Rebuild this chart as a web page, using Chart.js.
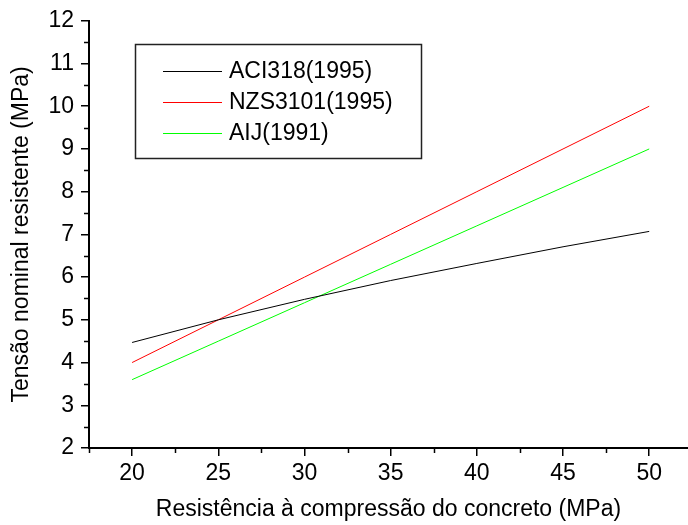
<!DOCTYPE html>
<html>
<head>
<meta charset="utf-8">
<script src="https://cdn.jsdelivr.net/npm/chart.js@4/dist/chart.umd.min.js"></script>
<style>
html,body{margin:0;padding:0;background:#fff;}
#wrap{width:688px;height:525px;position:relative;}
</style>
</head>
<body>
<div id="wrap"><canvas id="c" width="688" height="525"></canvas></div>
<script>
const fcValues = [20, 25, 30, 35, 40, 45, 50];
const aci318 = [4.47, 5.00, 5.48, 5.92, 6.32, 6.71, 7.07];
const nzs3101 = [4.0, 5.0, 6.0, 7.0, 8.0, 9.0, 10.0];
const aij = [3.6, 4.5, 5.4, 6.3, 7.2, 8.1, 9.0];
const seriesNames = ['ACI318(1995)', 'NZS3101(1995)', 'AIJ(1991)'];
const seriesColors = ['#000000', '#ff0000', '#00ff00'];
const xTicks = [20, 25, 30, 35, 40, 45, 50];
const xMinorTicks = [17.5, 22.5, 27.5, 32.5, 37.5, 42.5, 47.5, 52.5];
const yTicks = [2, 3, 4, 5, 6, 7, 8, 9, 10, 11, 12];
const yMinorTicks = [2.5, 3.5, 4.5, 5.5, 6.5, 7.5, 8.5, 9.5, 10.5, 11.5];
const xTitle = 'Resistência à compressão do concreto (MPa)';
const yTitle = 'Tensão nominal resistente (MPa)';

const FONT = "'Liberation Sans', Arial, sans-serif";
const FS = 23;

function pts(arr){ return fcValues.map((x,i)=>({x:x, y:arr[i]})); }
const allSeries = [aci318, nzs3101, aij];

const minorTickPlugin = {
  id: 'minorTicks',
  afterDraw(chart){
    const ctx = chart.ctx;
    const xs = chart.scales.x, ys = chart.scales.y;
    const ca = chart.chartArea;
    ctx.save();
    ctx.strokeStyle = '#000';
    ctx.lineWidth = 1.5;
    xMinorTicks.forEach(v=>{
      const px = xs.getPixelForValue(v);
      if (px < ca.left - 0.5 || px > ca.right + 0.5) return;
      ctx.beginPath();
      ctx.moveTo(Math.round(px)+0.5, ca.bottom);
      ctx.lineTo(Math.round(px)+0.5, ca.bottom + 5);
      ctx.stroke();
    });
    yMinorTicks.forEach(v=>{
      const py = ys.getPixelForValue(v);
      ctx.beginPath();
      ctx.moveTo(ca.left, Math.round(py)+0.5);
      ctx.lineTo(ca.left - 5, Math.round(py)+0.5);
      ctx.stroke();
    });
    ctx.restore();
  }
};

const legendPlugin = {
  id: 'boxLegend',
  afterDraw(chart){
    const ctx = chart.ctx;
    ctx.save();
    ctx.strokeStyle = '#222';
    ctx.lineWidth = 1.5;
    ctx.strokeRect(135.5, 44.5, 286, 114);
    ctx.font = FS + 'px ' + FONT;
    ctx.textBaseline = 'middle';
    ctx.textAlign = 'left';
    const rows = [71, 102, 133];
    chart.data.datasets.forEach((ds, i)=>{
      ctx.strokeStyle = ds.borderColor;
      ctx.lineWidth = 1;
      ctx.beginPath();
      ctx.moveTo(163, rows[i]+0.5);
      ctx.lineTo(222, rows[i]+0.5);
      ctx.stroke();
      ctx.fillStyle = '#000';
      ctx.fillText(ds.label, 229, rows[i]+1);
    });
    ctx.restore();
  }
};

new Chart(document.getElementById('c'), {
  type: 'line',
  data: {
    datasets: allSeries.map((arr, i)=>({
      label: seriesNames[i],
      data: pts(arr),
      borderColor: seriesColors[i],
      backgroundColor: seriesColors[i],
      borderWidth: 1,
      pointRadius: 0,
      tension: 0,
      fill: false
    }))
  },
  options: {
    responsive: false,
    animation: false,
    devicePixelRatio: 1,
    layout: { padding: { top: 19, right: 0, left: 0, bottom: 0 } },
    plugins: { legend: { display: false }, tooltip: { enabled: false } },
    scales: {
      x: {
        type: 'linear',
        min: 17.5,
        max: 52.25,
        afterBuildTicks: s => { s.ticks = xTicks.map(v=>({value:v})); },
        afterFit: s => { s.height = 77; },
        border: { display: true, color: '#000', width: 2 },
        grid: { display: true, drawOnChartArea: false, drawTicks: true, tickLength: 8, color: '#000', lineWidth: 1.5 },
        ticks: { color: '#000', font: { family: FONT, size: FS }, padding: 4, maxRotation: 0, callback: v => String(v) },
        title: { display: true, text: xTitle, color: '#000', font: { family: FONT, size: FS }, padding: { top: 4, bottom: 2 } }
      },
      y: {
        type: 'linear',
        min: 2,
        max: 12,
        afterBuildTicks: s => { s.ticks = yTicks.map(v=>({value:v})); },
        afterFit: s => { s.width = 89; },
        border: { display: true, color: '#000', width: 2 },
        grid: { display: true, drawOnChartArea: false, drawTicks: true, tickLength: 8, color: '#000', lineWidth: 1.5 },
        ticks: { color: '#000', font: { family: FONT, size: FS }, padding: 7, callback: v => String(v) },
        title: { display: true, text: yTitle, color: '#000', font: { family: FONT, size: FS }, padding: { top: 8, bottom: 0 } }
      }
    }
  },
  plugins: [minorTickPlugin, legendPlugin]
});
</script>
</body>
</html>
